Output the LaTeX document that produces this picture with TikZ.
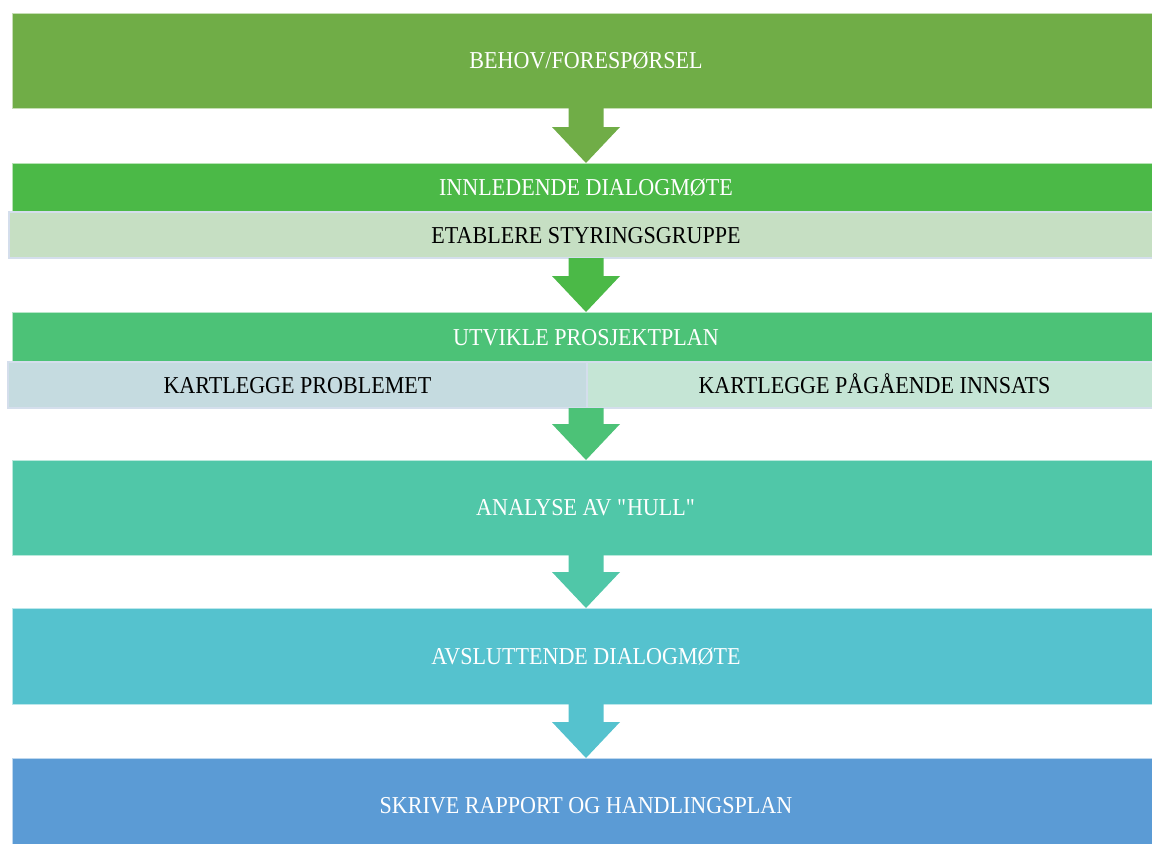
\documentclass[tikz,border=0pt]{standalone}
\usepackage{fontspec}
\setmainfont[FakeStretch=0.91]{Liberation Serif}
\usetikzlibrary{calc}
\definecolor{cA}{HTML}{70AD47}
\definecolor{cB}{HTML}{4BB947}
\definecolor{cC}{HTML}{4CC277}
\definecolor{cD}{HTML}{50C7A8}
\definecolor{cE}{HTML}{55C2CE}
\definecolor{cF}{HTML}{5B9BD5}
\definecolor{lA}{HTML}{C6DFC3}
\definecolor{lB}{HTML}{C5DBE0}
\definecolor{lC}{HTML}{C5E5D5}
\definecolor{lineL}{HTML}{D4DEEC}
\newcommand\straightq{\XeTeXglyph\XeTeXcharglyph"0022\relax}
\newcommand\blockarrow[3]{%
  \fill[#1] let \p1=(#2), \p2=(#3.north) in
    (\x2-13.125pt,\y1) -- (\x2+13.125pt,\y1) -- (\x2+13.125pt,\y2+27pt)
    -- (\x2+25.5pt,\y2+27pt) -- (\x2,\y2) -- (\x2-25.5pt,\y2+27pt)
    -- (\x2-13.125pt,\y2+27pt) -- cycle;}
\begin{document}
\begin{tikzpicture}[x=0.75pt,y=-0.75pt,
  every node/.style={inner sep=0pt, outer sep=0pt, font=\fontsize{18.2}{20}\selectfont,
    text height=12pt, text depth=0pt},
  darkbox/.style={fill=#1, draw=white!60!#1, line width=0.6pt, text=white},
  lightbox/.style={fill=#1, draw=lineL, line width=1.3pt, text=black}]
\useasboundingbox (0,0) rectangle (1152,843);
\clip (0,0) rectangle (1152,843);
\fill[white] (0,0) rectangle (1152,843);

\node[darkbox=cA, minimum width=861pt, minimum height=71.25pt] (b1) at (586,60.5) {BEHOV/FORESPØRSEL};
\node[darkbox=cB, minimum width=861pt, minimum height=36.75pt] (b2) at (586,187.5) {INNLEDENDE DIALOGMØTE};
\node[lightbox=lA, minimum width=865.5pt, minimum height=34.5pt] (s2) at (586,235) {ETABLERE STYRINGSGRUPPE};
\node[darkbox=cC, minimum width=861pt, minimum height=37.5pt] (b3) at (586,337) {UTVIKLE PROSJEKTPLAN};
\node[lightbox=lB, minimum width=434.25pt, minimum height=34.5pt] (s3a) at (297.5,385) {KARTLEGGE PROBLEMET};
\node[lightbox=lC, minimum width=431.25pt, minimum height=34.5pt] (s3b) at (874.5,385) {KARTLEGGE PÅGÅENDE INNSATS};
\node[darkbox=cD, minimum width=861pt, minimum height=71.25pt] (b4) at (586,507.5) {ANALYSE AV \straightq HULL\straightq};
\node[darkbox=cE, minimum width=861pt, minimum height=72pt] (b5) at (586,656) {AVSLUTTENDE DIALOGMØTE};
\node[darkbox=cF, minimum width=861pt, minimum height=71.25pt] (b6) at (586,805.5) {SKRIVE RAPPORT OG HANDLINGSPLAN};

\blockarrow{cA}{b1.south}{b2}
\blockarrow{cB}{s2.south}{b3}
\blockarrow{cC}{s3a.south east}{b4}
\blockarrow{cD}{b4.south}{b5}
\blockarrow{cE}{b5.south}{b6}
\end{tikzpicture}
\end{document}
